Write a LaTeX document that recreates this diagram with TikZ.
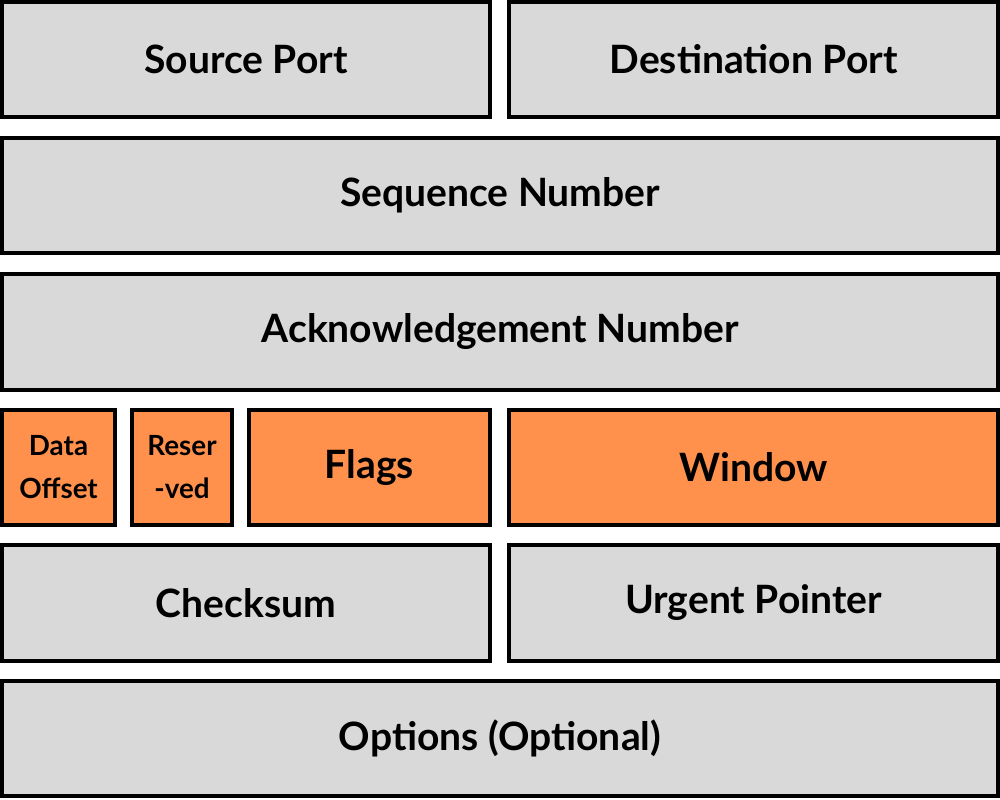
\documentclass[tikz,border=0pt]{standalone}
\usepackage{fontspec}
\setmainfont{Lato}
\definecolor{hdrgray}{HTML}{D9D9D9}
\definecolor{hdrorange}{HTML}{FF914D}
\tikzset{
  field/.style={draw=black, line width=1.15pt, fill=hdrgray, minimum height=1.15cm,
    inner sep=0pt, font=\bfseries\fontsize{11.1}{12}\selectfont},
  orangefield/.style={field, fill=hdrorange},
  smalltext/.style={font=\bfseries\fontsize{7.9}{12.2}\selectfont, align=center}
}
\begin{document}
\begin{tikzpicture}[x=0.01cm, y=-0.01cm]
    \useasboundingbox (0,0) rectangle (1000,800);
    % 端口
    \node[field, minimum width=4.88cm] (src) at (246,59.5) {Source Port};
    \node[field, minimum width=4.89cm] (dst) at (753.5,59.5) {Destination Port};
    % 序号与确认号
    \node[field, minimum width=9.96cm] (seq) at (500,195.5) {Sequence Number};
    \node[field, minimum width=9.96cm] (ack) at (500,332) {Acknowledgement Number};
    % 偏移、保留、标志、窗口
    \node[orangefield, minimum width=1.13cm, smalltext] (off) at (58.5,467.5) {Data\\Offset};
    \node[orangefield, minimum width=1.00cm, smalltext] (rsv) at (182,467.5) {Reser\\-ved};
    \node[orangefield, minimum width=2.41cm] (flg) at (369.5,467.5) {Flags};
    \node[orangefield, minimum width=4.89cm] (win) at (753.5,467.5) {Window};
    % 校验和与紧急指针
    \node[field, minimum width=4.88cm, minimum height=1.16cm] (chk) at (246,603) {Checksum};
    \node[field, minimum width=4.89cm, minimum height=1.16cm] (urg) at (753.5,603) {Urgent Pointer};
    % 选项
    \node[field, minimum width=9.96cm] (opt) at (500,738.5) {Options (Optional)};
\end{tikzpicture}
\end{document}
